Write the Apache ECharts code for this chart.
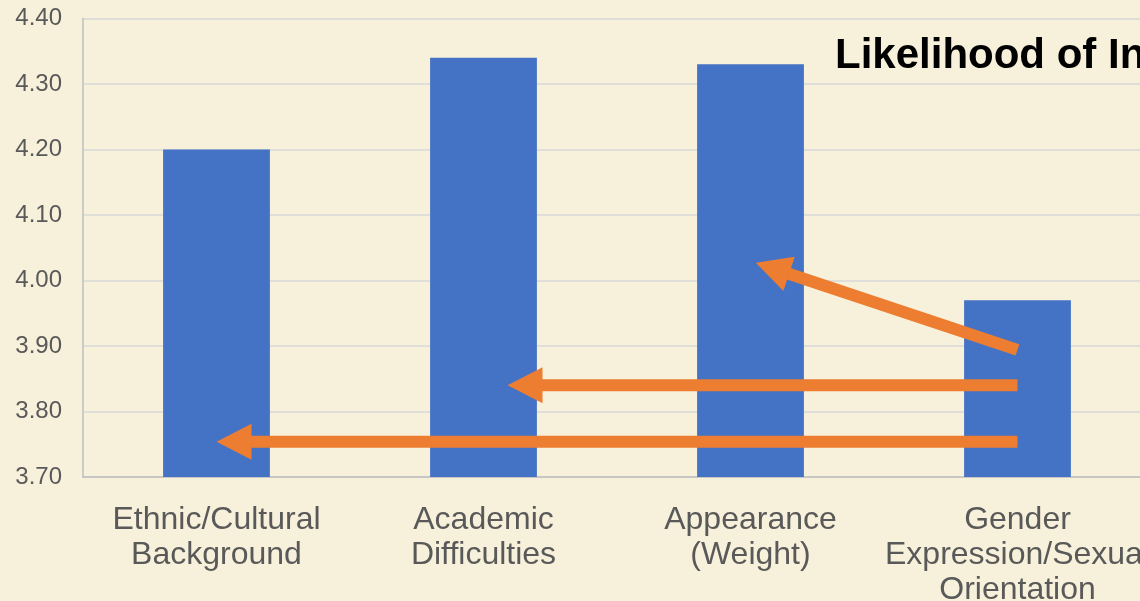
<!DOCTYPE html>
<html>
<head>
<meta charset="utf-8">
<script src="https://cdn.jsdelivr.net/npm/echarts@6/dist/echarts.min.js"></script>
<style>
  html, body { margin: 0; padding: 0; overflow: hidden; background: #F7F0DA; }
  #chart { width: 1400px; height: 601px; }
</style>
</head>
<body>
<div id="chart"></div>
<script>
// Survey categories and mean likelihood scores
const categories = [
  'Ethnic/Cultural\nBackground',
  'Academic\nDifficulties',
  'Appearance\n(Weight)',
  'Gender\nExpression/Sexual\nOrientation'
];
const scores = [4.20, 4.34, 4.33, 3.97];
const yTicks = { min: 3.70, max: 4.40, interval: 0.10 };
const titleText = 'Likelihood of Intervention';

// Comparison arrows, in data space: [categoryPosition, score]
const arrowStarts = [[3, 3.894], [3, 3.840], [3, 3.754]];
const arrowEnds   = [[2.02, 4.027], [1.09, 3.840], [0, 3.754]];

const chart = echarts.init(document.getElementById('chart'));
const textColor = '#595959';
const font = '"Liberation Sans", Arial, sans-serif';

chart.setOption({
  backgroundColor: '#F7F0DA',
  animation: false,
  grid: {
    left: 83, right: 249, top: 18.5, bottom: 124,
    containLabel: false, outerBoundsMode: 'none'
  },
  xAxis: {
    type: 'category',
    data: categories,
    axisLine: { show: true, lineStyle: { color: '#BFBFBF', width: 1.5 } },
    axisTick: { show: false },
    axisLabel: {
      interval: 0, margin: 26, color: textColor,
      fontFamily: font, fontSize: 32, lineHeight: 35
    }
  },
  yAxis: {
    type: 'value',
    min: yTicks.min, max: yTicks.max, interval: yTicks.interval,
    axisLine: { show: true, lineStyle: { color: '#BFBFBF', width: 1.5 } },
    axisTick: { show: false },
    splitLine: { lineStyle: { color: '#D9D9D9', width: 1.5 } },
    axisLabel: {
      margin: 21, color: textColor, fontFamily: font, fontSize: 24,
      formatter: v => v.toFixed(2)
    }
  },
  series: [{
    type: 'bar',
    data: scores,
    barWidth: '40%',
    itemStyle: { color: '#4472C4' }
  }]
});

// Pixel position for a fractional category position and score
function toPixel(pt) {
  const i = Math.floor(pt[0]);
  const f = pt[0] - i;
  const a = chart.convertToPixel({ gridIndex: 0 }, [i, pt[1]]);
  if (f === 0) return a;
  const b = chart.convertToPixel({ gridIndex: 0 }, [i + 1, pt[1]]);
  return [a[0] + f * (b[0] - a[0]), a[1]];
}

const orange = '#ED7D31';
const headLen = 35, headHalf = 18, shaft = 12;
const graphics = [];
arrowStarts.forEach((s, k) => {
  const p0 = toPixel(s), p1 = toPixel(arrowEnds[k]);
  const dx = p1[0] - p0[0], dy = p1[1] - p0[1];
  const len = Math.hypot(dx, dy);
  const ux = dx / len, uy = dy / len;
  const bx = p1[0] - ux * headLen, by = p1[1] - uy * headLen;
  graphics.push({
    type: 'line', z: 100,
    shape: { x1: p0[0], y1: p0[1], x2: bx + ux * 2, y2: by + uy * 2 },
    style: { stroke: orange, lineWidth: shaft, lineCap: 'butt' }
  });
  graphics.push({
    type: 'polygon', z: 100,
    shape: { points: [
      [p1[0], p1[1]],
      [bx - uy * headHalf, by + ux * headHalf],
      [bx + uy * headHalf, by - ux * headHalf]
    ] },
    style: { fill: orange }
  });
});
graphics.push({
  type: 'text', z: 110, left: 835, top: 35,
  style: {
    text: titleText, fill: '#000000',
    font: 'bold 42px "Liberation Sans", Arial, sans-serif'
  }
});
chart.setOption({ graphic: graphics });
</script>
</body>
</html>
